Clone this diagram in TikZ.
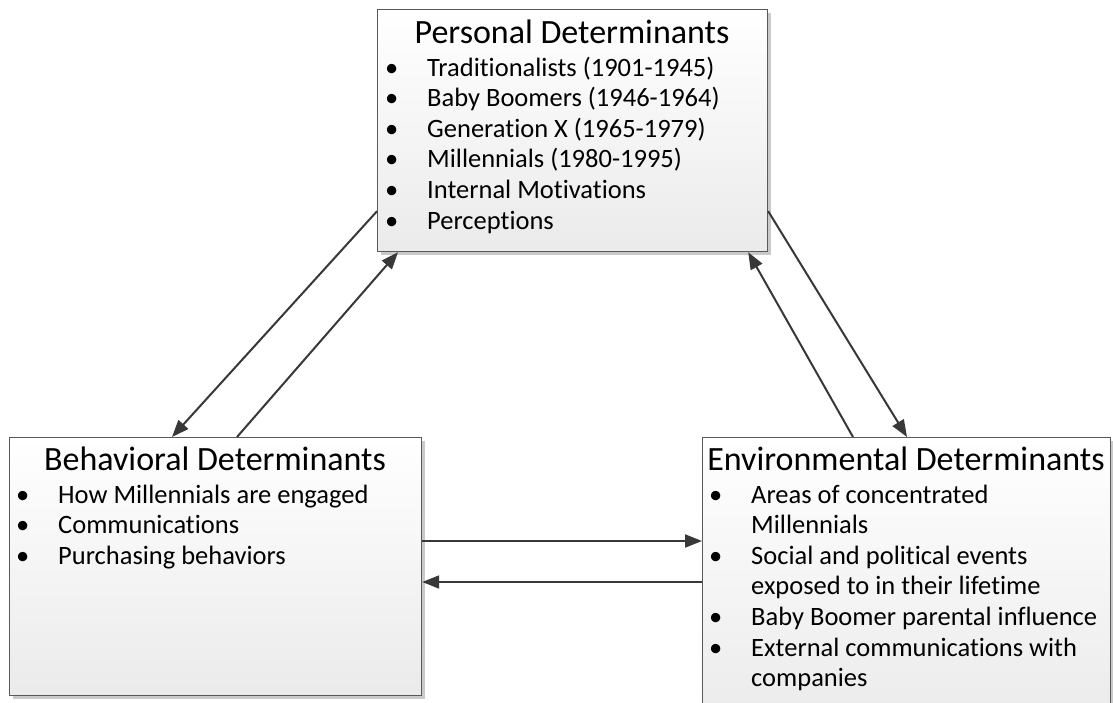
\documentclass[tikz,border=0pt]{standalone}
\usepackage{fontspec}
\setmainfont{Carlito}[Ligatures=NoCommon]
\usetikzlibrary{arrows.meta,shadows,calc}

\begin{document}
\begin{tikzpicture}[x=1pt,y=-1pt,
  box/.style={draw=black!65, line width=1.2pt, top color=white, bottom color=black!8,
    drop shadow={shadow xshift=3pt,shadow yshift=-3pt,fill=black!35,opacity=0.6},
    inner sep=0pt, anchor=north west},
  ttl/.style={font=\fontsize{34}{40}\selectfont, anchor=base, inner sep=0pt},
  itm/.style={font=\fontsize{26.5}{30.6}\selectfont, anchor=base west, inner sep=0pt},
  bul/.style={font=\fontsize{26.5}{30.6}\selectfont, anchor=base west, inner sep=0pt},
  arr/.style={draw=black!78, line width=2pt, -{Triangle[length=17pt,width=13pt]}}]

\useasboundingbox (0,0) rectangle (1113,702);
\fill[white] (0,0) rectangle (1113,702);

% the three boxes
\node[box, minimum width=390pt, minimum height=242pt] (pers) at (377,9) {};
\node[box, minimum width=412pt, minimum height=258pt] (beh)  at (9,437) {};
\node[box, minimum width=408pt, minimum height=290pt] (env)  at (702,437) {};

% personal determinants
\node[ttl] (perst) at (572,43) {Personal Determinants};
\node[bul] (pb1) at (385,76)    {•}; \node[itm] (pi1) at (427,76)    {Traditionalists (1901-1945)};
\node[bul] (pb2) at (385,106.6) {•}; \node[itm] (pi2) at (427,106.6) {Baby Boomers (1946-1964)};
\node[bul] (pb3) at (385,137.2) {•}; \node[itm] (pi3) at (427,137.2) {Generation X (1965-1979)};
\node[bul] (pb4) at (385,167.8) {•}; \node[itm] (pi4) at (427,167.8) {Millennials (1980-1995)};
\node[bul] (pb5) at (385,198.4) {•}; \node[itm] (pi5) at (427,198.4) {Internal Motivations};
\node[bul] (pb6) at (385,229)   {•}; \node[itm] (pi6) at (427,229)   {Perceptions};

% behavioral determinants
\node[ttl] (beht) at (215,470) {Behavioral Determinants};
\node[bul] (bb1) at (16,503)   {•}; \node[itm] (bi1) at (58,503)   {How Millennials are engaged};
\node[bul] (bb2) at (16,533.6) {•}; \node[itm] (bi2) at (58,533.6) {Communications};
\node[bul] (bb3) at (16,564.2) {•}; \node[itm] (bi3) at (58,564.2) {Purchasing behaviors};

% environmental determinants
\node[ttl] (envt) at (906,470) {Environmental Determinants};
\node[bul] (eb1) at (709,503)   {•}; \node[itm] (ei1) at (751,503)   {Areas of concentrated};
                                     \node[itm] (ei1b) at (751,533.6) {Millennials};
\node[bul] (eb2) at (709,564.2) {•}; \node[itm] (ei2) at (751,564.2) {Social and political events};
                                     \node[itm] (ei2b) at (751,594.8) {exposed to in their lifetime};
\node[bul] (eb3) at (709,625.4) {•}; \node[itm] (ei3) at (751,625.4) {Baby Boomer parental influence};
\node[bul] (eb4) at (709,656)   {•}; \node[itm] (ei4) at (751,656)   {External communications with};
                                     \node[itm] (ei4b) at (751,686.6) {companies};

% connectors
\draw[arr] ($(pers.south west)+(0,-41)$) -- ($(beh.north west)+(163,0)$);
\draw[arr] ($(beh.north west)+(228,0)$) -- ($(pers.south west)+(21,0)$);
\draw[arr] ($(pers.south east)+(0,-41)$) -- ($(env.north west)+(205,0)$);
\draw[arr] ($(env.north west)+(151,0)$) -- ($(pers.south east)+(-20,0)$);
\draw[arr] ($(beh.north east)+(0,104)$) -- ($(env.north west)+(0,104)$);
\draw[arr] ($(env.north west)+(0,145)$) -- ($(beh.north east)+(0,145)$);
\end{tikzpicture}
\end{document}
